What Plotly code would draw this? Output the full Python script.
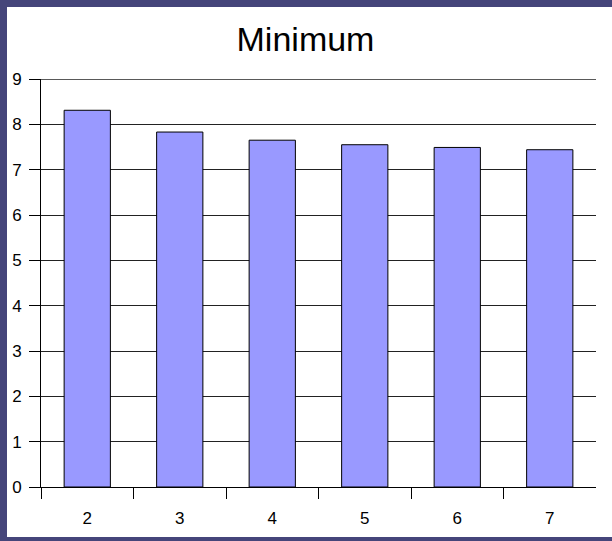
import plotly.graph_objects as go

# Minimum values per group
categories = [2, 3, 4, 5, 6, 7]
minimum_values = [8.31, 7.83, 7.65, 7.55, 7.49, 7.44]
y_ticks = [0, 1, 2, 3, 4, 5, 6, 7, 8, 9]
boundaries = [c - 0.5 for c in categories]

FONT = "Arial, Liberation Sans, sans-serif"
W, H = 612, 541
L, R, T, B = 41, 16, 79, 54

fig = go.Figure()
fig.add_trace(go.Bar(
    x=categories,
    y=minimum_values,
    width=0.5,
    marker=dict(color="#9999ff", line=dict(color="#000000", width=1)),
    hoverinfo="x+y",
))

# white panel framed by the dark border
pw, ph = W - L - R, H - T - B
fig.add_shape(type="rect", xref="paper", yref="paper", layer="below",
              x0=(7 - L) / pw, x1=(W - L) / pw,
              y0=-(537 - (H - B)) / ph, y1=(H - B - 7) / ph,
              fillcolor="white", line=dict(width=0))

# top gridline at the upper end of the value axis
fig.add_shape(type="line", xref="paper", yref="y", layer="below",
              x0=0, x1=1, y0=y_ticks[-1], y1=y_ticks[-1],
              line=dict(color="#222222", width=1.5))

fig.update_layout(
    width=W, height=H,
    margin=dict(l=L, r=R, t=T, b=B),
    paper_bgcolor="#45457a",
    plot_bgcolor="white",
    showlegend=False,
    font=dict(family=FONT, size=17, color="black"),
    title=dict(text="Minimum", x=305.5 / W, xanchor="center",
               y=1 - 38.7 / H, yanchor="middle",
               font=dict(family=FONT, size=34, color="black")),
)

fig.update_xaxes(
    range=[categories[0] - 0.5, categories[-1] + 0.5],
    tickvals=categories, ticktext=[str(c) for c in categories],
    tickfont=dict(size=17),
    ticks="", showgrid=False, zeroline=False,
    showline=True, linecolor="black", linewidth=1,
    ticklabelstandoff=16,
    minor=dict(tickvals=boundaries, ticks="outside", ticklen=11,
               tickcolor="black", tickwidth=1, showgrid=False),
)
fig.update_yaxes(
    range=[0, 9], tickvals=y_ticks,
    tickfont=dict(size=17),
    ticks="outside", ticklen=11, tickcolor="black", tickwidth=1,
    showgrid=True, gridcolor="#222222", gridwidth=1,
    zeroline=False,
    showline=True, linecolor="black", linewidth=1,
    ticklabelstandoff=4,
)

fig.write_html("out.html")
